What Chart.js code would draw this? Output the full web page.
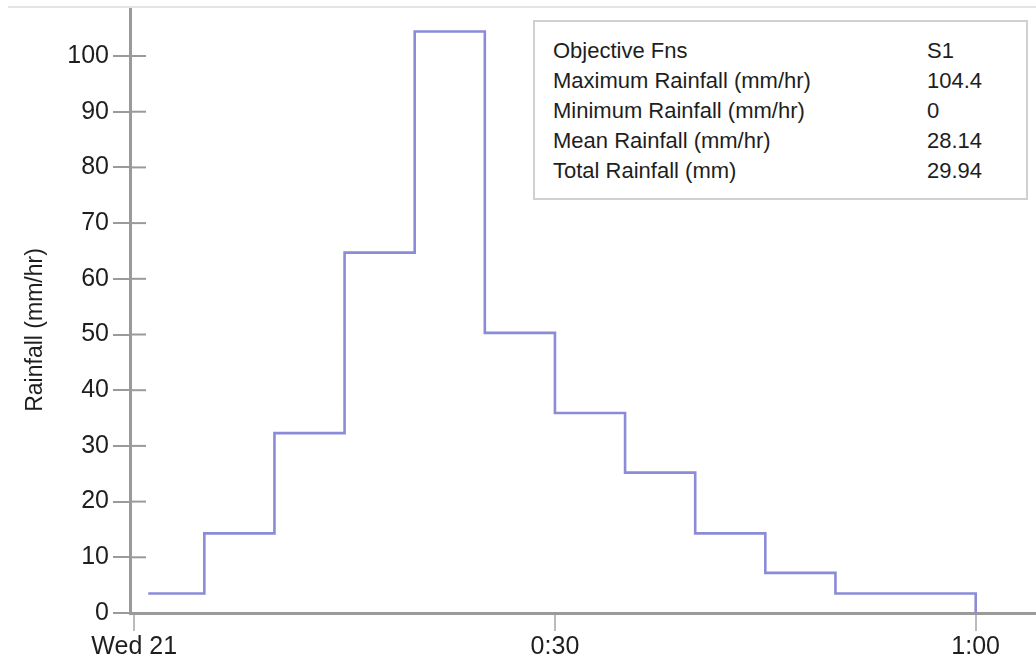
<!DOCTYPE html>
<html>
<head>
<meta charset="utf-8">
<script src="https://cdn.jsdelivr.net/npm/chart.js@4"></script>
<style>
  body { margin: 0; background: #fff; font-family: "Liberation Sans", Arial, sans-serif; }
  #wrap { position: relative; width: 1036px; height: 660px; }
  #stats { position: absolute; left: 533px; top: 20px; width: 491px; height: 176px;
           border: 2px solid #d0d0d0; background: #fff; color: #1e1e1e; font-size: 22px; }
  .row { position: absolute; left: 18px; height: 30px; line-height: 30px; white-space: nowrap; }
  .val { position: absolute; left: 392px; height: 30px; line-height: 30px; white-space: nowrap; }
</style>
</head>
<body>
<div id="wrap">
  <canvas id="chart" width="1036" height="660"></canvas>
  <div id="stats"></div>
</div>
<script>
// step start times (minutes after 0:00) and rainfall held from that time on
const stepMinutes = [1, 5, 10, 15, 20, 25, 30, 35, 40, 45, 50, 60];
const rainfall = [3.5, 14.3, 32.3, 64.7, 104.4, 50.3, 35.9, 25.2, 14.3, 7.2, 3.5, 0];

const xTickValues = [0, 30, 60];
const xTickLabels = ['Wed 21', '0:30', '1:00'];

const statNames = ['Objective Fns', 'Maximum Rainfall (mm/hr)', 'Minimum Rainfall (mm/hr)', 'Mean Rainfall (mm/hr)', 'Total Rainfall (mm)'];
const statValues = ['S1', '104.4', '0', '28.14', '29.94'];

const yTitle = 'Rainfall (mm/hr)';

// stats box
const box = document.getElementById('stats');
statNames.forEach((name, i) => {
  const top = 14 + i * 30;
  box.insertAdjacentHTML('beforeend',
    `<div class="row" style="top:${top}px">${name}</div><div class="val" style="top:${top}px">${statValues[i]}</div>`);
});

const axisGray = '#9a9a9a';

// inner half of the y tick marks, the light top rule and the y title
const extras = {
  id: 'extras',
  afterDraw(chart) {
    const ctx = chart.ctx;
    const area = chart.chartArea;
    const y = chart.scales.y;
    ctx.save();
    ctx.strokeStyle = '#e4e4e4';
    ctx.lineWidth = 2;
    ctx.beginPath();
    ctx.moveTo(8, area.top);
    ctx.lineTo(chart.width, area.top);
    ctx.stroke();
    ctx.strokeStyle = axisGray;
    ctx.lineWidth = 2;
    y.ticks.forEach(t => {
      const py = y.getPixelForValue(t.value);
      ctx.beginPath();
      ctx.moveTo(area.left, py);
      ctx.lineTo(area.left + 16, py);
      ctx.stroke();
    });
    // y title
    ctx.translate(36, 330);
    ctx.rotate(-Math.PI / 2);
    ctx.fillStyle = '#1e1e1e';
    ctx.font = '23px "Liberation Sans"';
    ctx.textAlign = 'center';
    ctx.textBaseline = 'middle';
    ctx.fillText(yTitle, 0, 0);
    ctx.restore();
  }
};

new Chart(document.getElementById('chart'), {
  type: 'line',
  data: {
    datasets: [{
      data: stepMinutes.map((m, i) => ({ x: m, y: rainfall[i] })),
      stepped: 'before',
      borderColor: '#8b8bd8',
      borderWidth: 2.6,
      pointRadius: 0,
      fill: false
    }]
  },
  options: {
    responsive: false,
    animation: false,
    layout: { padding: { top: 7, left: 0, right: 0, bottom: 0 } },
    plugins: { legend: { display: false }, tooltip: { enabled: false } },
    scales: {
      x: {
        type: 'linear',
        min: -0.3,
        max: 64.3,
        afterBuildTicks: s => { s.ticks = xTickValues.map(v => ({ value: v })); },
        afterFit: s => { s.height = 47; s.paddingLeft = 0; s.paddingRight = 0; },
        ticks: {
          autoSkip: false,
          maxRotation: 0,
          color: '#1e1e1e',
          padding: 1,
          font: { family: 'Liberation Sans', size: 25 },
          callback: v => xTickLabels[xTickValues.indexOf(v)]
        },
        grid: { drawOnChartArea: false, color: '#bbb', lineWidth: 2, tickLength: 18 },
        border: { color: axisGray, width: 3 }
      },
      y: {
        min: 0,
        max: 108.8,
        afterFit: s => { s.width = 130; s.paddingTop = 0; s.paddingBottom = 0; },
        ticks: {
          stepSize: 10,
          includeBounds: false,
          color: '#1e1e1e',
          padding: 4,
          font: { family: 'Liberation Sans', size: 25 }
        },
        grid: { drawOnChartArea: false, color: axisGray, lineWidth: 2, tickLength: 17 },
        border: { color: axisGray, width: 3 }
      }
    }
  },
  plugins: [extras]
});
</script>
</body>
</html>
